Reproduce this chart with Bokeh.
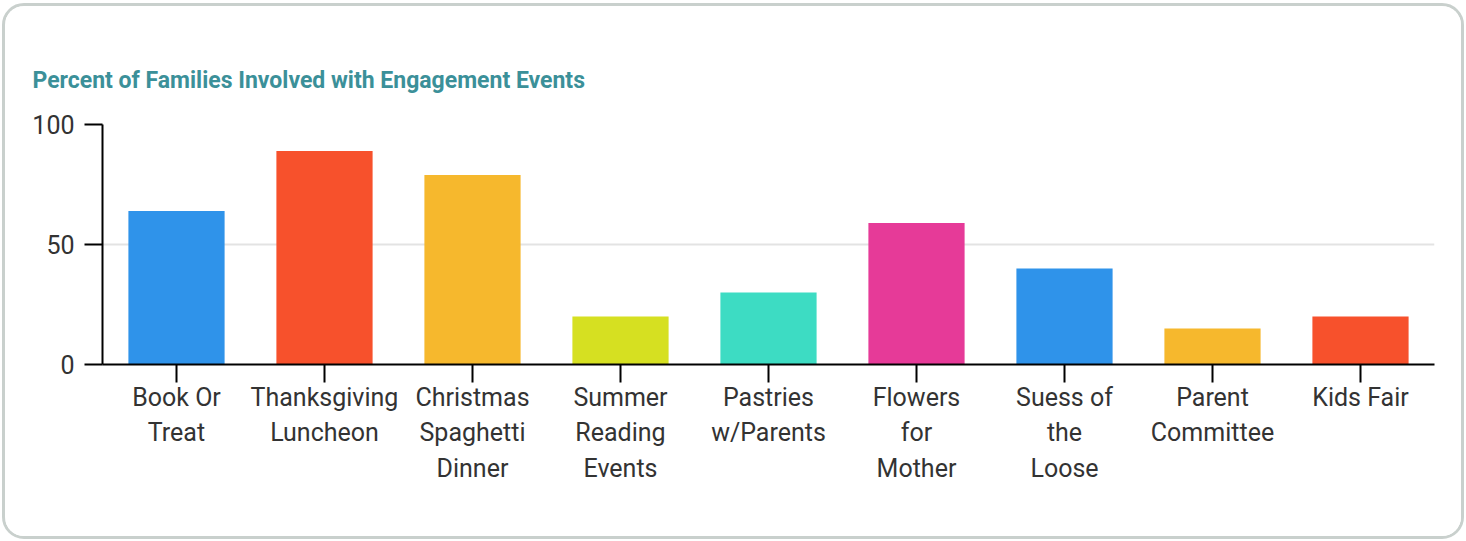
from bokeh.plotting import figure
from bokeh.models import ColumnDataSource, FactorRange, Range1d, FixedTicker
from bokeh.embed import file_html
from bokeh.resources import INLINE

categories = ["Book Or\nTreat", "Thanksgiving\nLuncheon", "Christmas\nSpaghetti\nDinner",
              "Summer\nReading\nEvents", "Pastries\nw/Parents", "Flowers\nfor\nMother",
              "Suess of\nthe\nLoose", "Parent\nCommittee", "Kids Fair"]
values = [64, 89, 79, 20, 30, 59, 40, 15, 20]
colors = ["#2f93ea", "#f7512c", "#f6b82d", "#d6e021", "#3ddcc3", "#e63a98",
          "#2f93ea", "#f6b82d", "#f7512c"]
y_ticks = [0, 50, 100]

src = ColumnDataSource(dict(cat=categories, val=values, color=colors))

p = figure(width=1462, height=536, x_range=FactorRange(*categories, range_padding=0),
           y_range=Range1d(0, 100), output_backend="svg", toolbar_location=None,
           min_border_left=97, min_border_top=118, min_border_right=33, min_border_bottom=178,
           title="Percent of Families Involved with Engagement Events")
p.styles = {"border": "3px solid #c9d0cd", "border-radius": "22px",
            "margin": "3px 0 0 2px", "overflow": "hidden"}
p.x_range.range_padding = 0

p.vbar(x="cat", top="val", width=0.65, color="color", source=src, line_color=None)

p.title.text_font = "Roboto"
p.title.text_font_style = "bold"
p.title.text_font_size = "23px"
p.title.text_color = "#3b9099"
p.title.align = "left"
p.title.offset = -70
p.title.standoff = 61

p.outline_line_color = None
p.xgrid.grid_line_color = None
p.ygrid.grid_line_color = "#e3e3e3"
p.ygrid.grid_line_width = 2

for ax in (p.xaxis[0], p.yaxis[0]):
    ax.axis_line_color = "black"
    ax.axis_line_width = 2
    ax.major_tick_line_color = "black"
    ax.major_tick_line_width = 2
    ax.major_tick_out = 18
    ax.major_tick_in = 0
    ax.minor_tick_line_color = None
    ax.major_label_text_font = "Roboto"
    ax.major_label_text_font_size = "25px"
    ax.major_label_text_color = "#333333"

p.yaxis[0].ticker = FixedTicker(ticks=y_ticks)
p.yaxis[0].major_label_standoff = 10
p.xaxis[0].major_label_standoff = 0
p.xaxis[0].major_label_text_line_height = 1.23
p.xaxis[0].major_label_orientation = "horizontal"

open("out.html", "w").write(file_html(p, INLINE))
